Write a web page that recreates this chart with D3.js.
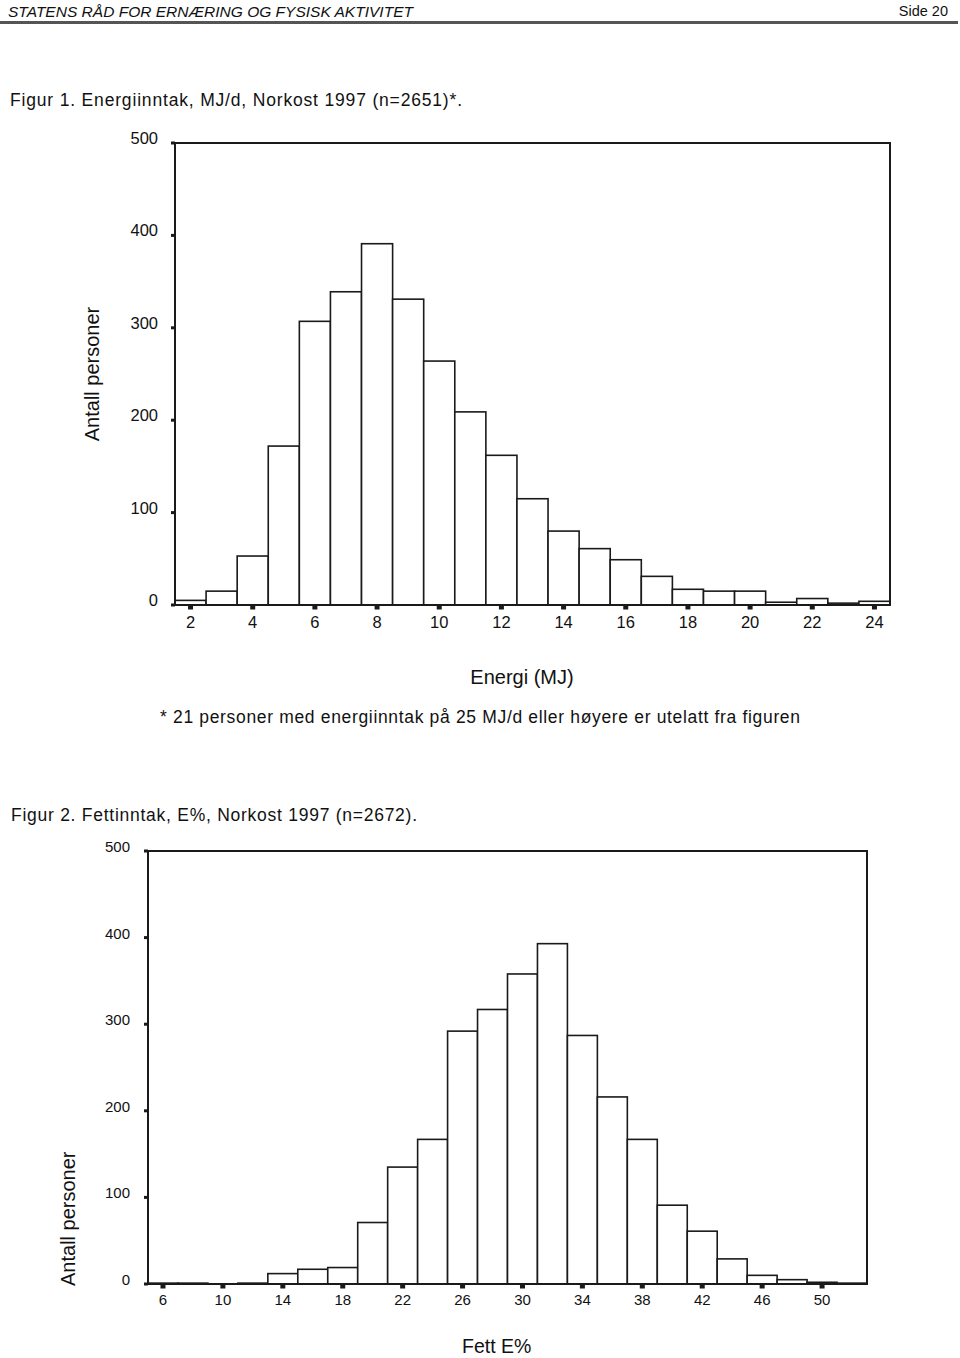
<!DOCTYPE html>
<html><head><meta charset="utf-8">
<script src="https://cdn.jsdelivr.net/npm/d3@7"></script>
<style>body{margin:0;background:#fff}svg{display:block}text{font-family:"Liberation Sans",Arial,sans-serif;fill:#111}</style>
</head><body>
<svg id="c" width="960" height="1358"></svg>
<script>
// Figure 1: energy intake (MJ/d), bins of 1 MJ centered on integers
const energyBins = [2,3,4,5,6,7,8,9,10,11,12,13,14,15,16,17,18,19,20,21,22,23,24];
const energyCounts = [5,15,53,172,307,339,391,331,264,209,162,115,80,61,49,31,17,15,15,3,7,2,4];
const energyTicks = [2,4,6,8,10,12,14,16,18,20,22,24];
// Figure 2: fat intake (E%), bins of 2 E% centered on even numbers
const fatBins = [6,8,10,12,14,16,18,20,22,24,26,28,30,32,34,36,38,40,42,44,46,48,50,52];
const fatCounts = [1,1,0,1,12,17,19,71,135,167,292,317,358,393,287,216,167,91,61,29,10,5,2,1];
const fatTicks = [6,10,14,18,22,26,30,34,38,42,46,50];
const countTicks = [0,100,200,300,400,500];

const svg = d3.select("#c");
const ink = "#1a1a1a";

// header
svg.append("text").attr("x",8).attr("y",17).attr("font-size",14.5).attr("font-style","italic")
  .attr("textLength",405).attr("lengthAdjust","spacingAndGlyphs")
  .text("STATENS RÅD FOR ERNÆRING OG FYSISK AKTIVITET");
svg.append("text").attr("x",948).attr("y",16).attr("font-size",14.5).attr("text-anchor","end").text("Side 20");
svg.append("rect").attr("x",0).attr("y",21).attr("width",958).attr("height",3).attr("fill","#555");

svg.append("text").attr("x",10).attr("y",106).attr("font-size",17.5)
  .attr("textLength",452).attr("lengthAdjust","spacing")
  .text("Figur 1. Energiinntak, MJ/d, Norkost 1997 (n=2651)*.");
svg.append("text").attr("x",11).attr("y",821).attr("font-size",17.5)
  .attr("textLength",406).attr("lengthAdjust","spacing")
  .text("Figur 2. Fettinntak, E%, Norkost 1997 (n=2672).");

function hist(cfg){
  const x = d3.scaleLinear().domain(cfg.xd).range([cfg.left,cfg.right]);
  const y = d3.scaleLinear().domain([0,500]).range([cfg.bottom,cfg.top]);
  const g = svg.append("g");
  // bars
  g.selectAll("rect.bar").data(cfg.bins).join("rect").attr("class","bar")
    .attr("x",(d,i)=>x(d-cfg.w/2)).attr("width",(d)=>x(d+cfg.w/2)-x(d-cfg.w/2))
    .attr("y",(d,i)=>y(cfg.counts[i])).attr("height",(d,i)=>y(0)-y(cfg.counts[i]))
    .attr("fill","#fff").attr("stroke",ink).attr("stroke-width",1.6);
  // frame
  g.append("rect").attr("x",cfg.left).attr("y",cfg.top).attr("width",cfg.right-cfg.left).attr("height",cfg.bottom-cfg.top)
    .attr("fill","none").attr("stroke",ink).attr("stroke-width",2);
  // y ticks
  g.selectAll("rect.yt").data(countTicks).join("rect").attr("class","yt")
    .attr("x",cfg.left-4).attr("y",d=>y(d)-1.5).attr("width",4).attr("height",3).attr("fill",ink);
  g.selectAll("text.yl").data(countTicks).join("text").attr("class","yl")
    .attr("x",cfg.left-cfg.ylgap).attr("y",d=>y(d)+cfg.ydy).attr("text-anchor","end").attr("font-size",cfg.fs)
    .text(d=>d);
  // x ticks
  g.selectAll("rect.xt").data(cfg.ticks).join("rect").attr("class","xt")
    .attr("x",d=>x(d)-2.5).attr("y",cfg.bottom+1).attr("width",5).attr("height",3.5).attr("fill",ink);
  g.selectAll("text.xl").data(cfg.ticks).join("text").attr("class","xl")
    .attr("x",d=>x(d)).attr("y",cfg.bottom+cfg.xdy).attr("text-anchor","middle").attr("font-size",cfg.fs)
    .text(d=>d);
}

hist({xd:[1.5,24.5],left:175,right:890,top:143,bottom:605,bins:energyBins,counts:energyCounts,w:1,
  ticks:energyTicks,fs:16.5,ylgap:17,ydy:1,xdy:23});
hist({xd:[5,53],left:148,right:867,top:851,bottom:1284,bins:fatBins,counts:fatCounts,w:2,
  ticks:fatTicks,fs:15,ylgap:18,ydy:1,xdy:21});

// axis titles
svg.append("text").attr("transform","translate(99,374) rotate(-90)").attr("text-anchor","middle")
  .attr("font-size",20).attr("fill","#333").text("Antall personer");
svg.append("text").attr("x",522).attr("y",684).attr("text-anchor","middle").attr("font-size",20).text("Energi (MJ)");
svg.append("text").attr("x",160).attr("y",723).attr("font-size",17.5)
  .attr("textLength",640).attr("lengthAdjust","spacing")
  .text("* 21 personer med energiinntak på 25 MJ/d eller høyere er utelatt fra figuren");

svg.append("text").attr("transform","translate(75,1286) rotate(-90)").attr("text-anchor","start")
  .attr("font-size",20).text("Antall personer");
svg.append("text").attr("x",462).attr("y",1353).attr("font-size",19.5).text("Fett E%");
</script>
</body></html>
